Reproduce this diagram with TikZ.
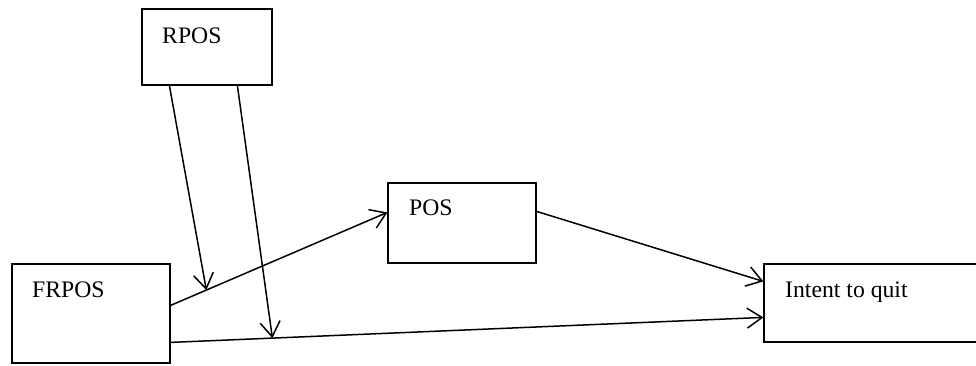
\documentclass[tikz,border=0pt]{standalone}
\usepackage{fontspec}
\setmainfont{Liberation Serif}
\usetikzlibrary{arrows.meta,calc}
\begin{document}
\begin{tikzpicture}[x=1pt,y=-1pt,
  box/.style={draw,line width=1.2pt,inner sep=0pt,rectangle},
  lbl/.style={anchor=base west,inner sep=0pt,font=\fontsize{23.7}{28}\selectfont},
  conn/.style={line width=1.5pt,-{Straight Barb[length=15pt,width=20pt,line width=1.5pt]}}]
\useasboundingbox (0,0) rectangle (976,365);
\fill[white] (0,0) rectangle (976,365);
\node[box,minimum width=130pt,minimum height=76pt] (rp) at (207,47) {};
\node[box,minimum width=148pt,minimum height=80pt] (pos) at (462,223) {};
\node[box,minimum width=158pt,minimum height=99pt] (fr) at (91,313.5) {};
\node[box,minimum width=224pt,minimum height=78pt] (iq) at (876,303) {};
\node[lbl] (trp) at (162,43) {RPOS};
\node[lbl] (tpos) at (409,215) {POS};
\node[lbl] (tfr) at (32,297) {FRPOS};
\node[lbl] (tiq) at (785,297) {Intent to quit};
\coordinate (f1) at ($(fr.north east)+(0,42)$);
\coordinate (f2) at ($(fr.north east)+(0,79)$);
\coordinate (p1) at ($(pos.north west)+(0,30)$);
\coordinate (p2) at ($(pos.north east)+(0,29)$);
\coordinate (i1) at ($(iq.north west)+(0,18)$);
\coordinate (i2) at ($(iq.north west)+(0,54)$);
\coordinate (r1) at ($(rp.south west)+(28,0)$);
\coordinate (r2) at ($(rp.south west)+(96,0)$);
\coordinate (m1) at ($(f1)!0.165!(p1)$);
\coordinate (m2) at ($(f2)!0.1717!(i2)$);
\draw[conn] (f1) -- (p1);
\draw[conn] (p2) -- (i1);
\draw[conn] (f2) -- (i2);
\draw[conn] (r1) -- (m1);
\draw[conn] (r2) -- (m2);
\end{tikzpicture}
\end{document}
